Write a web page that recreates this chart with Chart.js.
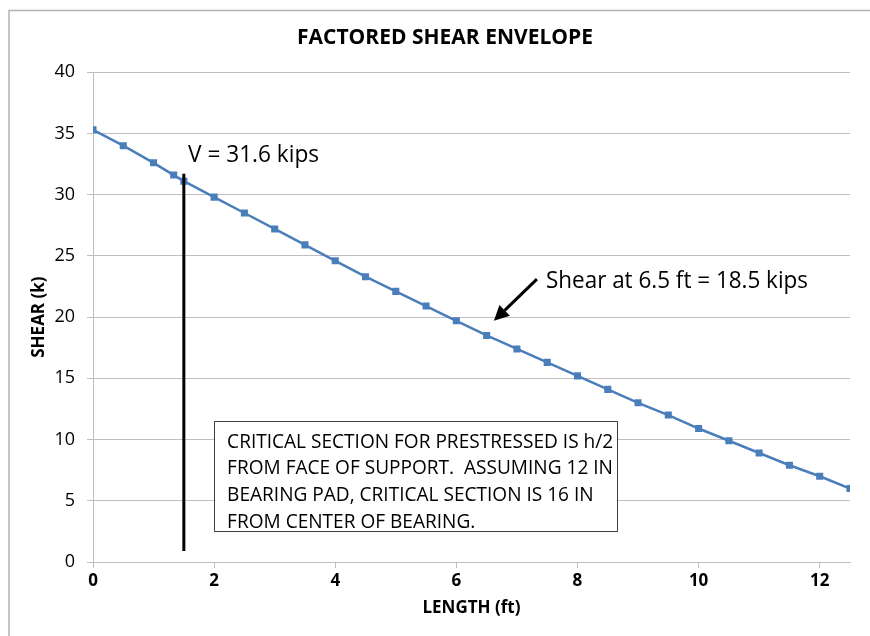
<!DOCTYPE html>
<html>
<head>
<meta charset="utf-8">
<script src="https://cdn.jsdelivr.net/npm/chart.js@4.4.1/dist/chart.umd.min.js"></script>
<style>
  html, body { margin: 0; padding: 0; background: #ffffff; }
  #wrap { width: 870px; height: 636px; }
</style>
</head>
<body>
<div id="wrap"><canvas id="c" width="870" height="636"></canvas></div>
<script>
// ---- Data ----
const lengthFt = [0, 0.5, 1, 1.333, 1.5, 2, 2.5, 3, 3.5, 4, 4.5, 5, 5.5, 6, 6.5, 7, 7.5, 8, 8.5, 9, 9.5, 10, 10.5, 11, 11.5, 12, 12.5];
const shearK  = [35.3, 34.0, 32.6, 31.6, 31.1, 29.8, 28.5, 27.2, 25.9, 24.6, 23.3, 22.1, 20.9, 19.7, 18.5, 17.4, 16.3, 15.2, 14.1, 13.0, 12.0, 10.9, 9.9, 8.9, 7.9, 7.0, 6.0];
const criticalX = [1.5, 1.5];
const criticalY = [31.7, 0.9];
const xTicks = [0, 2, 4, 6, 8, 10, 12];
const yTicks = [0, 5, 10, 15, 20, 25, 30, 35, 40];

const titleText = 'FACTORED SHEAR ENVELOPE';
const xTitle = 'LENGTH (ft)';
const yTitle = 'SHEAR (k)';
const labelV = 'V = 31.6 kips';
const labelShear = 'Shear at 6.5 ft = 18.5 kips';
const noteLines = [
  'CRITICAL SECTION FOR PRESTRESSED IS h/2',
  'FROM FACE OF SUPPORT.  ASSUMING 12 IN',
  'BEARING PAD, CRITICAL SECTION IS 16 IN',
  'FROM CENTER OF BEARING.'
];

// annotation anchors (data coordinates)
const arrowFrom = {x: 7.33, y: 23.1};
const arrowTo = {x: 6.62, y: 19.7};
const vLabelAt = {x: 1.57, y: 32.65};
const shearLabelAt = {x: 7.48, y: 22.37};
const noteBox = {x1: 2.0, y1: 11.5, x2: 8.66, y2: 2.5};

const FONT = '"Open Sans", "DejaVu Sans", sans-serif';

function drawFit(ctx, text, x, y, px, width, weight) {
  ctx.save();
  ctx.font = (weight || 'normal') + ' ' + px + 'px ' + FONT;
  const w = ctx.measureText(text).width;
  const sx = width / w;
  ctx.translate(x, y);
  ctx.scale(sx, 1);
  ctx.textBaseline = 'alphabetic';
  ctx.textAlign = 'left';
  ctx.fillStyle = '#000000';
  ctx.fillText(text, 0, 0);
  ctx.restore();
}

const framePlugin = {
  id: 'frame',
  afterLayout(chart) {
    if (chart.titleBlock) {
      chart.titleBlock.left += 20;
      chart.titleBlock.right += 20;
    }
  },
  beforeDraw(chart) {
    const ctx = chart.ctx;
    ctx.save();
    ctx.fillStyle = '#ffffff';
    ctx.fillRect(0, 0, chart.width, chart.height);
    ctx.strokeStyle = '#b3b3b3';
    ctx.lineWidth = 1.5;
    ctx.beginPath();
    ctx.moveTo(9, chart.height + 2);
    ctx.lineTo(9, 10.5);
    ctx.lineTo(chart.width + 2, 10.5);
    ctx.stroke();
    ctx.restore();
  }
};

const annotPlugin = {
  id: 'annot',
  afterDatasetsDraw(chart) {
    const ctx = chart.ctx;
    const xs = chart.scales.x, ys = chart.scales.y;
    const px = v => xs.getPixelForValue(v);
    const py = v => ys.getPixelForValue(v);

    // arrow
    const x0 = px(arrowFrom.x), y0 = py(arrowFrom.y);
    const x1 = px(arrowTo.x), y1 = py(arrowTo.y);
    const ang = Math.atan2(y1 - y0, x1 - x0);
    const headLen = 15, headW = 7.5;
    const bx = x1 - headLen * Math.cos(ang), by = y1 - headLen * Math.sin(ang);
    ctx.save();
    ctx.strokeStyle = '#000000';
    ctx.fillStyle = '#000000';
    ctx.lineWidth = 3;
    ctx.beginPath();
    ctx.moveTo(x0, y0);
    ctx.lineTo(bx, by);
    ctx.stroke();
    ctx.beginPath();
    ctx.moveTo(x1, y1);
    ctx.lineTo(bx + headW * Math.sin(ang), by - headW * Math.cos(ang));
    ctx.lineTo(bx - headW * Math.sin(ang), by + headW * Math.cos(ang));
    ctx.closePath();
    ctx.fill();
    ctx.restore();

    // labels
    drawFit(ctx, labelV, px(vLabelAt.x), py(vLabelAt.y), 23, 131);
    drawFit(ctx, labelShear, px(shearLabelAt.x), py(shearLabelAt.y), 23, 262);

    // note box
    const bx1 = px(noteBox.x1), by1 = py(noteBox.y1);
    const bx2 = px(noteBox.x2), by2 = py(noteBox.y2);
    ctx.save();
    ctx.fillStyle = '#ffffff';
    ctx.fillRect(bx1, by1, bx2 - bx1, by2 - by1);
    ctx.strokeStyle = '#404040';
    ctx.lineWidth = 1;
    ctx.strokeRect(Math.round(bx1) + 0.5, Math.round(by1) + 0.5, Math.round(bx2 - bx1), Math.round(by2 - by1));
    ctx.restore();
    ctx.save();
    ctx.font = '20px ' + FONT;
    const w0 = ctx.measureText(noteLines[0]).width;
    ctx.restore();
    const sx = 386 / w0;
    noteLines.forEach((t, i) => {
      ctx.save();
      ctx.font = '20px ' + FONT;
      ctx.fillStyle = '#000000';
      ctx.translate(bx1 + 13, by1 + 26.5 + i * 26.7);
      ctx.scale(sx, 1);
      ctx.fillText(t, 0, 0);
      ctx.restore();
    });
  }
};

const ctx = document.getElementById('c').getContext('2d');
new Chart(ctx, {
  type: 'line',
  data: {
    datasets: [
      {
        label: 'Shear',
        data: lengthFt.map((x, i) => ({x: x, y: shearK[i]})),
        borderColor: '#4a7ebb',
        backgroundColor: '#4a7ebb',
        borderWidth: 2.5,
        pointStyle: 'rect',
        pointRadius: 5,
        pointBorderWidth: 0,
        tension: 0,
        order: 2
      },
      {
        label: 'Critical section',
        data: criticalX.map((x, i) => ({x: x, y: criticalY[i]})),
        borderColor: '#000000',
        borderWidth: 3,
        pointRadius: 0,
        tension: 0,
        order: 1
      }
    ]
  },
  options: {
    responsive: false,
    devicePixelRatio: 1,
    animation: false,
    layout: { padding: { left: 0, right: 20, top: 0, bottom: 0 } },
    plugins: {
      legend: { display: false },
      tooltip: { enabled: false },
      title: {
        display: true,
        text: titleText,
        color: '#000000',
        font: { family: FONT, size: 21, weight: 'bold' },
        padding: { top: 25, bottom: 22 }
      }
    },
    scales: {
      x: {
        type: 'linear',
        min: 0,
        max: 12.5,
        afterBuildTicks: s => { s.ticks = xTicks.map(v => ({value: v})); },
        afterFit: s => { s.height = 74; },
        ticks: {
          color: '#000000',
          font: { family: FONT, size: 17, weight: 'bold' },
          padding: 3,
          maxRotation: 0
        },
        grid: {
          drawOnChartArea: false,
          drawTicks: true,
          tickLength: 6,
          color: '#bfbfbf'
        },
        border: { display: true, color: '#bfbfbf', width: 1 },
        title: {
          display: true,
          text: xTitle,
          color: '#000000',
          font: { family: FONT, size: 17, weight: 'bold' },
          padding: { top: 0, bottom: 18 }
        }
      },
      y: {
        type: 'linear',
        min: 0,
        max: 40,
        afterBuildTicks: s => { s.ticks = yTicks.map(v => ({value: v})); },
        afterFit: s => { s.width = 93; },
        ticks: {
          color: '#000000',
          font: { family: FONT, size: 18 },
          padding: 12
        },
        grid: {
          color: '#bfbfbf',
          lineWidth: 1,
          tickLength: 6
        },
        border: { display: true, color: '#bfbfbf', width: 1 },
        title: {
          display: true,
          text: yTitle,
          color: '#000000',
          font: { family: FONT, size: 17, weight: 'bold' },
          padding: { top: 29, bottom: 0 }
        }
      }
    }
  },
  plugins: [framePlugin, annotPlugin]
});
</script>
</body>
</html>
